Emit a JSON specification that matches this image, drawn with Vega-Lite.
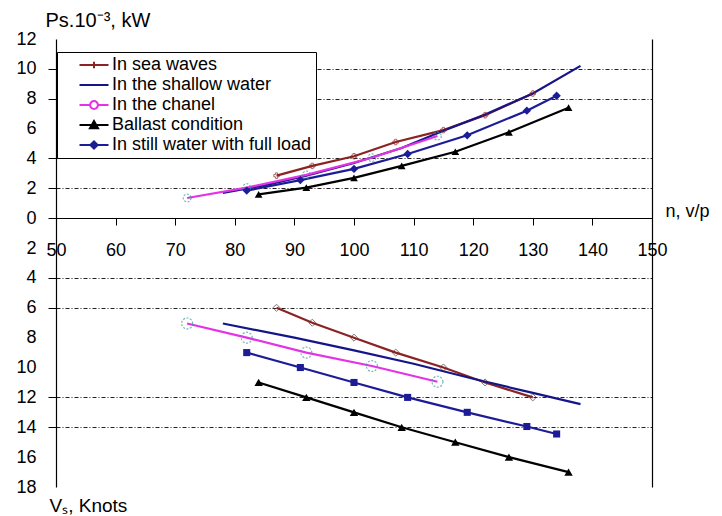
{
  "$schema": "https://vega.github.io/schema/vega-lite/v6.json",
  "width": 596,
  "height": 448,
  "autosize": "none",
  "padding": {"left": 56, "top": 39, "right": 70, "bottom": 29},
  "background": "white",
  "config": {"view": {"stroke": null}, "font": "Liberation Sans"},
  "data": {"values": [
    {"s": "In sea waves", "p": "P", "n": 87, "v": 2.85},
    {"s": "In sea waves", "p": "P", "n": 93, "v": 3.5},
    {"s": "In sea waves", "p": "P", "n": 100, "v": 4.15},
    {"s": "In sea waves", "p": "P", "n": 107, "v": 5.1},
    {"s": "In sea waves", "p": "P", "n": 115, "v": 5.9},
    {"s": "In sea waves", "p": "P", "n": 122, "v": 6.9},
    {"s": "In sea waves", "p": "P", "n": 130, "v": 8.35},
    {"s": "In the shallow water", "p": "P", "n": 78, "v": 1.7},
    {"s": "In the shallow water", "p": "P", "n": 85, "v": 2.2},
    {"s": "In the shallow water", "p": "P", "n": 92, "v": 2.85},
    {"s": "In the shallow water", "p": "P", "n": 100, "v": 3.7},
    {"s": "In the shallow water", "p": "P", "n": 108, "v": 4.7},
    {"s": "In the shallow water", "p": "P", "n": 115, "v": 5.85},
    {"s": "In the shallow water", "p": "P", "n": 122, "v": 6.95},
    {"s": "In the shallow water", "p": "P", "n": 130, "v": 8.35},
    {"s": "In the shallow water", "p": "P", "n": 138, "v": 10.2},
    {"s": "In the chanel", "p": "P", "n": 72, "v": 1.35},
    {"s": "In the chanel", "p": "P", "n": 82, "v": 2.05},
    {"s": "In the chanel", "p": "P", "n": 92, "v": 2.9},
    {"s": "In the chanel", "p": "P", "n": 103, "v": 4.05},
    {"s": "In the chanel", "p": "P", "n": 114, "v": 5.5},
    {"s": "Ballast condition", "p": "P", "n": 84, "v": 1.6},
    {"s": "Ballast condition", "p": "P", "n": 92, "v": 2.05},
    {"s": "Ballast condition", "p": "P", "n": 100, "v": 2.7},
    {"s": "Ballast condition", "p": "P", "n": 108, "v": 3.5},
    {"s": "Ballast condition", "p": "P", "n": 117, "v": 4.45},
    {"s": "Ballast condition", "p": "P", "n": 126, "v": 5.75},
    {"s": "Ballast condition", "p": "P", "n": 136, "v": 7.4},
    {"s": "In still water with full load", "p": "P", "n": 82, "v": 1.85},
    {"s": "In still water with full load", "p": "P", "n": 91, "v": 2.55},
    {"s": "In still water with full load", "p": "P", "n": 100, "v": 3.3},
    {"s": "In still water with full load", "p": "P", "n": 109, "v": 4.3},
    {"s": "In still water with full load", "p": "P", "n": 119, "v": 5.55},
    {"s": "In still water with full load", "p": "P", "n": 129, "v": 7.2},
    {"s": "In still water with full load", "p": "P", "n": 134, "v": 8.2},
    {"s": "In sea waves", "p": "V", "n": 87, "v": 6},
    {"s": "In sea waves", "p": "V", "n": 93, "v": 7},
    {"s": "In sea waves", "p": "V", "n": 100, "v": 8},
    {"s": "In sea waves", "p": "V", "n": 107, "v": 9},
    {"s": "In sea waves", "p": "V", "n": 115, "v": 10},
    {"s": "In sea waves", "p": "V", "n": 122, "v": 11},
    {"s": "In sea waves", "p": "V", "n": 130, "v": 12},
    {"s": "In the shallow water", "p": "V", "n": 78, "v": 7.05},
    {"s": "In the shallow water", "p": "V", "n": 90, "v": 8.0},
    {"s": "In the shallow water", "p": "V", "n": 100, "v": 8.85},
    {"s": "In the shallow water", "p": "V", "n": 110, "v": 9.75},
    {"s": "In the shallow water", "p": "V", "n": 120, "v": 10.75},
    {"s": "In the shallow water", "p": "V", "n": 130, "v": 11.7},
    {"s": "In the shallow water", "p": "V", "n": 138, "v": 12.45},
    {"s": "In the chanel", "p": "V", "n": 72, "v": 7.05},
    {"s": "In the chanel", "p": "V", "n": 82, "v": 8},
    {"s": "In the chanel", "p": "V", "n": 92, "v": 9},
    {"s": "In the chanel", "p": "V", "n": 103, "v": 9.9},
    {"s": "In the chanel", "p": "V", "n": 114, "v": 10.95},
    {"s": "Ballast condition", "p": "V", "n": 84, "v": 11},
    {"s": "Ballast condition", "p": "V", "n": 92, "v": 12},
    {"s": "Ballast condition", "p": "V", "n": 100, "v": 13},
    {"s": "Ballast condition", "p": "V", "n": 108, "v": 14},
    {"s": "Ballast condition", "p": "V", "n": 117, "v": 15},
    {"s": "Ballast condition", "p": "V", "n": 126, "v": 16},
    {"s": "Ballast condition", "p": "V", "n": 136, "v": 17},
    {"s": "In still water with full load", "p": "V", "n": 82, "v": 9},
    {"s": "In still water with full load", "p": "V", "n": 91, "v": 10},
    {"s": "In still water with full load", "p": "V", "n": 100, "v": 11},
    {"s": "In still water with full load", "p": "V", "n": 109, "v": 12},
    {"s": "In still water with full load", "p": "V", "n": 119, "v": 13},
    {"s": "In still water with full load", "p": "V", "n": 129, "v": 13.95},
    {"s": "In still water with full load", "p": "V", "n": 134, "v": 14.45}
  ]},
  "encoding": {
    "x": {"field": "n", "type": "quantitative",
      "scale": {"domain": [50, 150], "nice": false, "zero": false},
      "axis": {"title": "n, v/p", "titleX": 609, "titleY": -7, "titleAngle": 0, "titleAlign": "left", "titleBaseline": "middle",
        "titleFontSize": 18, "titleFontWeight": "normal", "titleColor": "black",
        "offset": -269, "values": [50, 60, 70, 80, 90, 100, 110, 120, 130, 140, 150],
        "tickSize": 7, "tickColor": "black", "labelPadding": 16, "labelFontSize": 18, "labelColor": "black",
        "labelFlush": false, "labelOverlap": false, "labelBound": false,
        "domainColor": "black", "domainWidth": 1.2, "grid": false}}
  },
  "layer": [
    {
      "transform": [{"filter": "datum.p === 'P'"}],
      "encoding": {
        "y": {"field": "v", "type": "quantitative",
          "scale": {"domain": [-18, 12], "nice": false, "zero": false},
          "axis": {"title": "Ps.10⁻³, kW", "titleX": -11, "titleY": -19, "titleAngle": 0, "titleAlign": "left", "titleBaseline": "middle",
            "titleFontSize": 20, "titleFontWeight": "normal", "titleColor": "black",
            "values": [-18, -16, -14, -12, -10, -8, -6, -4, -2, 0, 2, 4, 6, 8, 10, 12],
            "labelExpr": "'' + abs(datum.value)", "labelFontSize": 18, "labelColor": "black", "labelPadding": 12,
            "labelFlush": false, "labelOverlap": false, "labelBound": false,
            "tickSize": 8, "tickColor": "black",
            "tickOpacity": {"condition": {"test": "indexof([10, 8, 4, 2, 0, -4, -6, -12, -14], datum.value) >= 0", "value": 1}, "value": 0},
            "grid": true, "gridColor": "#222222", "gridWidth": 1, "gridDash": [4, 2, 1, 2],
            "gridOpacity": {"condition": {"test": "indexof([10, 8, 4, 2, -4, -6, -12, -14], datum.value) >= 0", "value": 1}, "value": 0},
            "domainColor": "black", "domainWidth": 1.2}}
      },
      "layer": [
        {"mark": {"type": "line", "strokeWidth": 2.2},
          "encoding": {"color": {"field": "s", "type": "nominal",
            "scale": {"domain": ["In sea waves", "In the shallow water", "In the chanel", "Ballast condition", "In still water with full load"],
              "range": ["#8b2323", "#15158a", "#e632e6", "#000000", "#1c1c96"]},
            "legend": {"orient": "none", "legendX": 1, "legendY": 13, "title": null, "fillColor": "white", "strokeColor": "black",
              "padding": 4, "labelFontSize": 18, "labelFont": "Liberation Sans", "labelColor": "black", "labelLimit": 400,
              "symbolSize": 210, "symbolStrokeWidth": 2, "symbolOffset": 24, "labelOffset": 9, "rowPadding": 2,
              "encode": {"symbols": {"update": {
                "fill": {"signal": "datum.value === 'In the chanel' ? '#ffffff' : scale('color', datum.value)"},
                "stroke": {"scale": "color", "field": "value"},
                "strokeWidth": {"value": 2},
                "opacity": {"value": 1}}}}}}}},
        {"transform": [{"filter": "datum.s === 'In sea waves'"}],
          "mark": {"type": "point", "shape": "cross", "size": 30, "filled": false, "color": "#8b2323", "strokeWidth": 1}},
        {"transform": [{"filter": "datum.s === 'In the chanel'"}],
          "mark": {"type": "point", "shape": "circle", "size": 60, "filled": false, "color": "#3a9a9a", "strokeWidth": 1.2, "strokeDash": [2, 1.5]}},
        {"transform": [{"filter": "datum.s === 'Ballast condition'"}],
          "mark": {"type": "point", "shape": "triangle-up", "size": 60, "filled": true, "color": "#000000", "opacity": 1}},
        {"transform": [{"filter": "datum.s === 'In still water with full load'"}],
          "mark": {"type": "point", "shape": "diamond", "size": 70, "filled": true, "color": "#1c1c96", "opacity": 1}},
        {"mark": {"type": "point", "opacity": 0},
          "encoding": {
            "color": {"field": "s", "type": "nominal",
              "scale": {"domain": ["In sea waves", "In the shallow water", "In the chanel", "Ballast condition", "In still water with full load"],
                "range": ["#8b2323", "#15158a", "#e632e6", "#000000", "#1c1c96"]}},
            "shape": {"field": "s", "type": "nominal",
              "scale": {"domain": ["In sea waves", "In the shallow water", "In the chanel", "Ballast condition", "In still water with full load"],
                "range": [
                  "M-2,0H2M0,-0.44V0.44",
                  "M-2,0H2",
                  "M-2,0H-0.54A0.54,0.54 0 1,1 0.54,0A0.54,0.54 0 1,1 -0.54,0M0.54,0H2",
                  "M-2,0H2M-0.56,0.44L0,-0.56L0.56,0.44Z",
                  "M-2,0H2M-0.5,0L0,-0.5L0.5,0L0,0.5Z"]}}}}
      ]
    },
    {
      "transform": [{"filter": "datum.p === 'V'"}],
      "encoding": {
        "y": {"field": "v", "type": "quantitative",
          "scale": {"domain": [-12, 18], "reverse": true, "nice": false, "zero": false},
          "axis": {"orient": "right", "title": "Vₛ, Knots", "titleX": -603, "titleY": 466, "titleAngle": 0, "titleAlign": "left", "titleBaseline": "middle",
            "titleFontSize": 19, "titleFontWeight": "normal", "titleColor": "black",
            "labels": false, "ticks": false, "grid": false, "domainColor": "black", "domainWidth": 1.2}}
      },
      "layer": [
        {"mark": {"type": "line", "strokeWidth": 2.2},
          "encoding": {"color": {"field": "s", "type": "nominal",
            "scale": {"domain": ["In sea waves", "In the shallow water", "In the chanel", "Ballast condition", "In still water with full load"],
              "range": ["#8b2323", "#15158a", "#e632e6", "#000000", "#1c1c96"]}}}},
        {"transform": [{"filter": "datum.s === 'In sea waves'"}],
          "mark": {"type": "point", "shape": "diamond", "size": 50, "filled": false, "color": "#553333", "strokeWidth": 1}},
        {"transform": [{"filter": "datum.s === 'In the chanel'"}],
          "mark": {"type": "point", "shape": "circle", "size": 120, "filled": false, "color": "#3a9a9a", "strokeWidth": 1.2, "strokeDash": [2, 1.5]}},
        {"transform": [{"filter": "datum.s === 'Ballast condition'"}],
          "mark": {"type": "point", "shape": "triangle-up", "size": 70, "filled": true, "color": "#000000", "opacity": 1}},
        {"transform": [{"filter": "datum.s === 'In still water with full load'"}],
          "mark": {"type": "point", "shape": "square", "size": 50, "filled": true, "color": "#1c1c96", "opacity": 1}}
      ]
    }
  ],
  "resolve": {"scale": {"y": "independent"}}
}
